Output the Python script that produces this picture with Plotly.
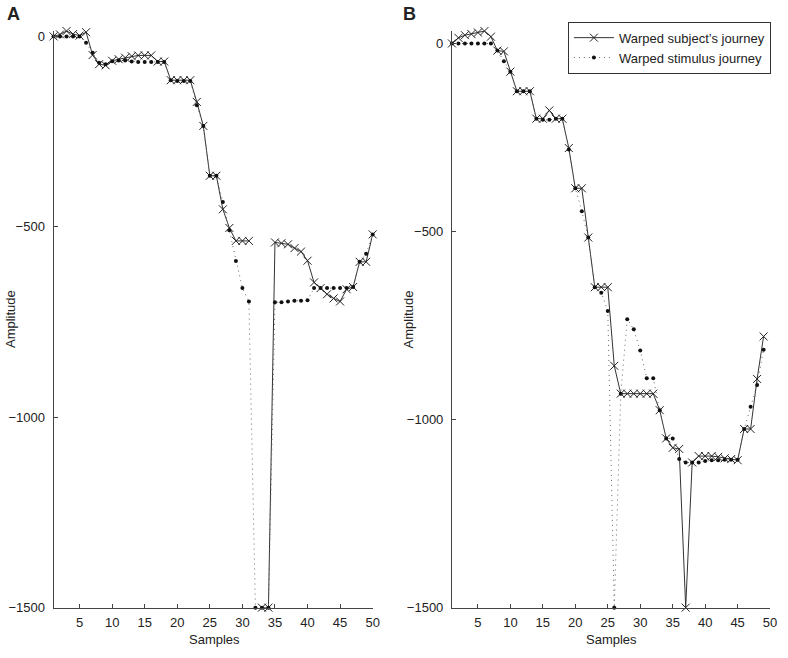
import plotly.graph_objects as go

# ---------------- data ----------------
samples_a = list(range(1, 51))
subject_a = [0, 5, 14, 6, 2, 11, -49, -73, -76, -64,
             -60, -56, -52, -50, -50, -50, -66, -66, -115, -115,
             -115, -115, -172, -235, -366, -366, -454, -503, -537, -537,
             -537, None, -1500, -1500, -541, -543, -546, -556, -565, -589,
             -646, -661, -677, -688, -696, -664, -658, -592, -592, -520]
stimulus_a = [0, 0, 0, 0, 0, -17, -43, -69, -73, -65,
              -63, -63, -66, -67, -67, -67, -67, -67, -115, -117,
              -117, -117, -181, -235, -366, -366, -435, -509, -590, -661,
              -696, -1500, -1500, -1500, -698, -698, -696, -694, -694, -693,
              -661, -661, -661, -661, -661, -661, -658, -592, -571, -520]

samples_b = list(range(1, 50))
subject_b = [0, 15, 22, 25, 29, 33, 18, -19, -21, -75,
             -127, -127, -127, -200, -200, -178, -200, -200, -278, -385,
             -385, -516, -648, -648, -648, -857, -931, -931, -931, -931,
             -931, -931, -975, -1050, -1075, -1078, -1500, -1114, -1097, -1097,
             -1097, -1099, -1103, -1105, -1108, -1025, -1025, -892, -779]
stimulus_b = [0, 0, 0, 0, 0, 0, 0, -19, -47, -75,
              -127, -127, -127, -200, -203, -203, -200, -200, -282, -385,
              -446, -516, -648, -663, -711, -1500, -931, -733, -760, -816,
              -890, -890, -975, -1050, -1050, -1105, -1114, -1114, -1114, -1110,
              -1108, -1108, -1107, -1107, -1107, -1025, -966, -908, -814]

x_ticks = [5, 10, 15, 20, 25, 30, 35, 40, 45, 50]
y_ticks = [0, -500, -1000, -1500]
subject_name = "Warped subject\u2019s journey"
stimulus_name = "Warped stimulus journey"

# ---------------- figure ----------------
W, H = 788, 658
FONT = "Liberation Sans, Arial, Helvetica, sans-serif"

def px_x(p):
    return p / W

def px_y(p):
    return (H - p) / H

fig = go.Figure()

subj_line = dict(color="#333333", width=1)
subj_marker = dict(symbol="x-thin", size=8, line=dict(color="#222222", width=1), color="#222222")
stim_line = dict(color="#666666", width=1, dash="1px,4px")
stim_marker = dict(symbol="circle", size=4, color="#111111")

for (xs, subj, stim, xa, ya, show) in [
    (samples_a, subject_a, stimulus_a, "x", "y", False),
    (samples_b, subject_b, stimulus_b, "x2", "y2", True),
]:
    fig.add_trace(go.Scatter(x=xs, y=subj, mode="lines+markers", name=subject_name,
                             line=subj_line, marker=subj_marker, xaxis=xa, yaxis=ya,
                             showlegend=show, cliponaxis=False, connectgaps=False))
    fig.add_trace(go.Scatter(x=xs, y=stim, mode="lines+markers", name=stimulus_name,
                             line=stim_line, marker=stim_marker, xaxis=xa, yaxis=ya,
                             showlegend=show, cliponaxis=False))

top_px, bot_px = 29.5, 615
ydom = [px_y(bot_px), px_y(top_px)]

axis_common = dict(showline=True, linecolor="#444444", linewidth=1, ticks="inside",
                   ticklen=4, tickcolor="#444444", tickwidth=1, showgrid=False,
                   zeroline=False, mirror=False, ticklabeloverflow="allow",
                   tickfont=dict(family=FONT, size=13, color="#222222"))

fig.update_layout(
    width=W, height=H, autosize=False,
    margin=dict(l=0, r=0, t=0, b=0),
    paper_bgcolor="white", plot_bgcolor="white",
    font=dict(family=FONT, size=13, color="#222222"),
    xaxis=dict(domain=[px_x(54), px_x(376)], range=[1, 50], tickvals=x_ticks,
               anchor="y", ticklabelstandoff=3, **axis_common),
    yaxis=dict(domain=ydom, range=[-1500, 14], tickvals=y_ticks, anchor="x",
               ticklabelstandoff=5, **axis_common),
    xaxis2=dict(domain=[px_x(456), px_x(777)], range=[1, 50], tickvals=x_ticks,
                anchor="y2", ticklabelstandoff=3, **axis_common),
    yaxis2=dict(domain=ydom, range=[-1500, 33], tickvals=y_ticks, anchor="x2",
                ticklabelstandoff=5, **axis_common),
    legend=dict(x=px_x(573), y=px_y(20), xanchor="left", yanchor="top",
                bgcolor="white", bordercolor="#333333", borderwidth=1,
                font=dict(family=FONT, size=13, color="#222222"),
                itemwidth=40, tracegroupgap=0),
    showlegend=True,
)

annots = [
    dict(text="<b>A</b>", x=px_x(14), y=px_y(12), font=dict(size=18)),
    dict(text="<b>B</b>", x=px_x(413), y=px_y(12), font=dict(size=18)),
    dict(text="Samples", x=px_x(216), y=px_y(647), font=dict(size=13)),
    dict(text="Samples", x=px_x(617), y=px_y(647), font=dict(size=13)),
    dict(text="Amplitude", x=px_x(10), y=px_y(322), font=dict(size=13), textangle=-90),
    dict(text="Amplitude", x=px_x(412), y=px_y(322), font=dict(size=13), textangle=-90),
]
for a in annots:
    fig.add_annotation(xref="paper", yref="paper", showarrow=False,
                       xanchor="center", yanchor="middle",
                       font=dict(family=FONT, size=a["font"]["size"], color="#222222"),
                       text=a["text"], x=a["x"], y=a["y"],
                       textangle=a.get("textangle", 0))

css_fix = (
    "var s=document.createElement('style');"
    "s.textContent='html,body{margin:0!important;padding:0!important;overflow:hidden!important;}';"
    "document.head.appendChild(s);"
)

fig.write_html("out.html", config={"displayModeBar": False}, post_script=css_fix)
